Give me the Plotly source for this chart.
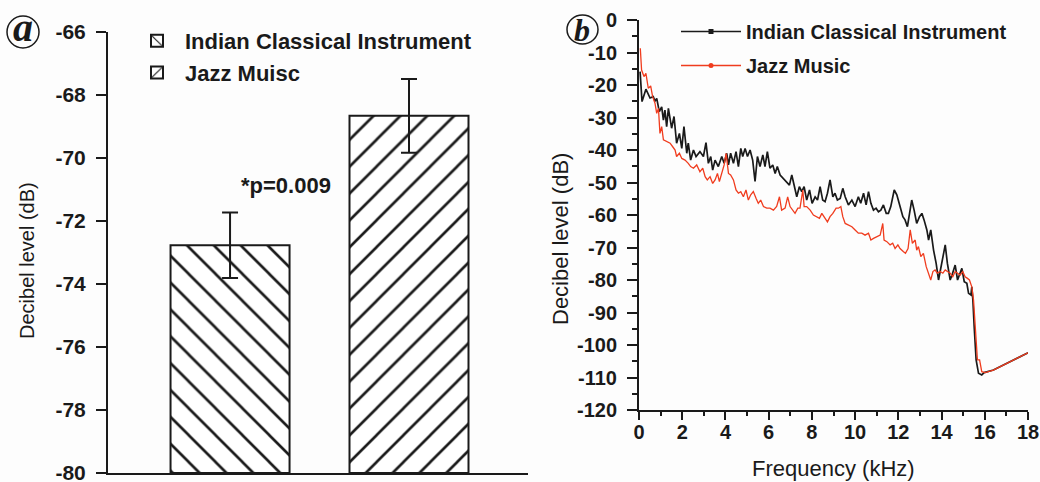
import plotly.graph_objects as go

W, H = 1040, 482

# ---------------- Panel a data ----------------
categories = ["Indian Classical Instrument", "Jazz Muisc"]
bar_values = [-72.77, -68.66]
bar_errors = [1.04, 1.17]
bar_patterns = ["\\", "/"]
ya_ticks = [-80, -78, -76, -74, -72, -70, -68, -66]
ya_labels = ["-80", "-78", "-76", "-74", "-72", "-70", "-68", "-66"]
axis_floor = -80

# ---------------- Panel b data ----------------
ici_freq = [0.05, 0.14, 0.32, 0.51, 0.66, 0.74, 0.82, 0.94, 1.05, 1.13, 1.20, 1.28, 1.36, 1.51,
            1.62, 1.74, 1.87, 1.98, 2.08, 2.21, 2.28, 2.39, 2.52, 2.64, 2.82, 2.98, 3.10, 3.21,
            3.32, 3.41, 3.52, 3.67, 3.83, 3.94, 4.06, 4.14, 4.24, 4.37, 4.49, 4.60, 4.71, 4.80,
            4.91, 5.02, 5.14, 5.26, 5.37, 5.48, 5.60, 5.73, 5.83, 5.94, 6.06, 6.19, 6.30, 6.40,
            6.53, 6.68, 6.84, 6.96, 7.07, 7.18, 7.30, 7.42, 7.53, 7.64, 7.76, 7.89, 8.01, 8.15,
            8.26, 8.38, 8.50, 8.61, 8.72, 8.84, 8.97, 9.07, 9.18, 9.31, 9.43, 9.54, 9.69, 9.85,
            10.00, 10.15, 10.26, 10.39, 10.51, 10.62, 10.73, 10.85, 10.97, 11.08, 11.19, 11.31,
            11.44, 11.54, 11.65, 11.81, 11.93, 12.08, 12.21, 12.31, 12.42, 12.52, 12.62, 12.73,
            12.85, 12.98, 13.09, 13.19, 13.32, 13.40, 13.50, 13.63, 13.75, 13.86, 13.97, 14.06,
            14.17, 14.27, 14.40, 14.51, 14.63, 14.74, 14.86, 14.94, 15.05, 15.17, 15.25, 15.36,
            15.40, 15.45, 15.51, 15.60, 15.71, 15.86, 15.97, 16.40, 18.00]
ici_db = [-15.9, -25.1, -21.3, -24.0, -23.6, -25.0, -24.1, -28.2, -26.7, -30.8, -27.7, -32.8,
          -27.2, -33.3, -29.7, -37.9, -34.9, -39.5, -32.8, -41.0, -37.9, -43.1, -40.0, -42.0,
          -40.5, -42.0, -37.7, -44.1, -42.0, -46.2, -43.1, -45.1, -42.0, -44.1, -41.0, -44.6,
          -41.0, -44.1, -40.5, -45.1, -39.5, -42.0, -39.5, -42.0, -40.0, -43.1, -49.7, -42.0,
          -45.1, -41.5, -45.1, -40.5, -45.6, -44.6, -47.2, -45.1, -47.7, -48.7, -49.7, -50.8,
          -47.7, -50.8, -54.4, -51.3, -52.8, -51.3, -55.4, -52.3, -56.4, -54.4, -55.4, -51.3,
          -55.4, -55.9, -53.3, -49.2, -54.4, -53.3, -55.4, -54.9, -51.8, -54.4, -56.9, -55.4,
          -57.4, -54.4, -56.4, -53.3, -56.9, -52.8, -56.4, -58.5, -57.9, -59.0, -58.5, -56.9,
          -59.5, -59.5, -57.4, -52.3, -53.8, -57.4, -60.5, -61.5, -63.6, -59.5, -55.4, -58.5,
          -62.6, -60.5, -59.5, -61.5, -64.6, -67.7, -64.6, -70.8, -74.9, -80.0, -75.9, -72.8,
          -69.2, -74.9, -80.0, -77.9, -75.4, -80.0, -77.4, -76.4, -80.5, -81.0, -84.1, -84.6,
          -82.1, -86.2, -94.4, -104.6, -108.7, -109.2, -108.5, -107.7, -102.4]

jazz_freq = [0.06, 0.12, 0.23, 0.32, 0.43, 0.54, 0.63, 0.74, 0.82, 0.90, 0.97, 1.05, 1.13, 1.28,
             1.44, 1.56, 1.67, 1.74, 1.87, 1.98, 2.13, 2.28, 2.39, 2.52, 2.67, 2.82, 2.95, 3.06,
             3.16, 3.29, 3.41, 3.52, 3.63, 3.72, 3.83, 3.94, 4.03, 4.14, 4.24, 4.37, 4.49, 4.60,
             4.71, 4.83, 4.95, 5.06, 5.17, 5.29, 5.42, 5.52, 5.63, 5.76, 5.91, 6.06, 6.22, 6.37,
             6.50, 6.60, 6.76, 6.88, 6.99, 7.11, 7.22, 7.35, 7.45, 7.58, 7.64, 7.76, 7.92, 8.07,
             8.23, 8.35, 8.46, 8.61, 8.72, 8.84, 8.97, 9.12, 9.23, 9.34, 9.43, 9.54, 9.69, 9.85,
             10.00, 10.15, 10.31, 10.46, 10.62, 10.73, 10.85, 11.00, 11.16, 11.28, 11.34, 11.47,
             11.62, 11.74, 11.85, 11.98, 12.08, 12.24, 12.33, 12.45, 12.55, 12.65, 12.78, 12.85,
             12.93, 13.04, 13.16, 13.29, 13.40, 13.50, 13.60, 13.70, 13.80, 13.94, 14.06, 14.17,
             14.27, 14.40, 14.52, 14.63, 14.74, 14.86, 14.98, 15.09, 15.20, 15.29, 15.40, 15.48,
             15.56, 15.66, 15.76, 15.86, 16.02, 16.40, 18.00]
jazz_db = [-8.7, -15.4, -17.4, -16.4, -21.0, -20.3, -23.6, -25.6, -28.7, -27.2, -34.9, -32.8,
           -36.9, -37.4, -37.9, -39.0, -40.0, -42.0, -41.0, -42.6, -43.1, -44.1, -45.1, -45.6,
           -44.6, -46.7, -45.6, -48.2, -49.2, -48.2, -50.3, -49.2, -47.2, -49.7, -47.2, -44.6,
           -41.0, -47.2, -47.7, -49.2, -52.3, -53.3, -52.8, -54.4, -52.3, -55.4, -53.8, -52.8,
           -54.9, -56.4, -55.4, -57.4, -57.9, -57.9, -58.5, -57.4, -54.4, -58.5, -57.9, -54.4,
           -57.4, -58.5, -59.5, -57.9, -57.9, -52.3, -57.4, -57.4, -58.5, -60.0, -60.5, -61.0,
           -59.5, -61.0, -62.1, -60.5, -59.5, -57.9, -57.9, -57.4, -60.5, -62.6, -63.1, -63.6,
           -64.6, -65.6, -65.6, -66.2, -65.6, -67.7, -67.2, -66.7, -66.2, -62.6, -67.7, -68.2,
           -69.2, -68.7, -70.3, -69.2, -70.3, -71.3, -71.8, -70.3, -64.6, -68.7, -67.7, -70.8,
           -69.7, -72.8, -71.8, -75.9, -77.9, -80.0, -77.4, -76.9, -77.9, -77.4, -77.9, -76.9,
           -77.4, -77.9, -79.0, -77.4, -77.9, -78.5, -77.4, -79.0, -79.5, -80.0, -82.1, -86.2,
           -94.4, -104.6, -104.6, -108.2, -108.5, -107.7, -102.4]

yb_ticks = [0, -10, -20, -30, -40, -50, -60, -70, -80, -90, -100, -110, -120]
yb_labels = ["0", "-10", "-20", "-30", "-40", "-50", "-60", "-70", "-80", "-90", "-100", "-110", "-120"]
xb_ticks = [0, 2, 4, 6, 8, 10, 12, 14, 16, 18]
xb_labels = ["0", "2", "4", "6", "8", "10", "12", "14", "16", "18"]

BLACK = "#1a1a1a"
RED = "#f03c1e"
FONT = "Liberation Sans"


def px(x):
    return x / W


def py(y):
    return 1 - y / H


fig = go.Figure()

# ---- panel a bars ----
for cat, val, err, pat in zip(categories, bar_values, bar_errors, bar_patterns):
    fig.add_trace(go.Bar(
        x=[cat], y=[val - axis_floor], base=[axis_floor], name=cat,
        width=0.665, xaxis="x", yaxis="y", legend="legend",
        marker=dict(color="white", line=dict(color=BLACK, width=2),
                    pattern=dict(shape=pat, fgcolor=BLACK, bgcolor="white",
                                 size=19, solidity=0.14)),
        error_y=dict(type="data", array=[err], color=BLACK, thickness=2, width=8),
    ))

# ---- panel b lines ----
fig.add_trace(go.Scatter(x=ici_freq, y=ici_db, mode="lines", showlegend=False,
                         line=dict(color=BLACK, width=1.7), xaxis="x2", yaxis="y2"))
fig.add_trace(go.Scatter(x=jazz_freq, y=jazz_db, mode="lines", showlegend=False,
                         line=dict(color=RED, width=1.3), xaxis="x2", yaxis="y2"))
# legend entries for panel b
fig.add_trace(go.Scatter(x=[None], y=[None], mode="lines+markers", name="Indian Classical Instrument",
                         line=dict(color=BLACK, width=1.6), marker=dict(symbol="square", size=5, color=BLACK),
                         xaxis="x2", yaxis="y2", legend="legend2", legendgroup="g1"))
fig.add_trace(go.Scatter(x=[None], y=[None], mode="lines+markers", name="Jazz Music",
                         line=dict(color=RED, width=1.3), marker=dict(symbol="circle", size=5, color=RED),
                         xaxis="x2", yaxis="y2", legend="legend2", legendgroup="g2"))

tickfont = dict(family=FONT, size=20, color=BLACK, weight="bold")

fig.update_layout(
    template="none",
    width=W, height=H,
    margin=dict(l=0, r=0, t=0, b=0, autoexpand=False),
    paper_bgcolor="#fdfdfd", plot_bgcolor="rgba(0,0,0,0)",
    barmode="overlay",
    font=dict(family=FONT, color=BLACK),
    xaxis=dict(domain=[px(108), px(528)], type="category", categoryarray=categories,
               range=[-0.682, 1.665], showline=True, linecolor=BLACK, linewidth=2,
               showticklabels=False, ticks="", showgrid=False, zeroline=False, automargin=False),
    yaxis=dict(domain=[py(473), py(32)], range=[-80, -66], tickvals=ya_ticks, ticktext=ya_labels,
               showline=True, linecolor=BLACK, linewidth=2, ticks="outside", ticklen=10,
               tickwidth=2, tickcolor=BLACK, tickfont=dict(family=FONT, size=21, color=BLACK, weight="bold"),
               ticklabelstandoff=6, ticklabeloverflow="allow", showgrid=False, zeroline=False,
               automargin=False),
    xaxis2=dict(domain=[px(639), px(1028)], range=[0, 18], tickvals=xb_ticks, ticktext=xb_labels,
                showline=True, linecolor=BLACK, linewidth=2, ticks="outside", ticklen=8, tickwidth=2,
                tickcolor=BLACK, tickfont=tickfont, showgrid=False, zeroline=False,
                minor=dict(dtick=1, ticks="outside", ticklen=4, tickwidth=2, tickcolor=BLACK),
                ticklabelstandoff=-5, ticklabeloverflow="allow", anchor="y2", automargin=False),
    yaxis2=dict(domain=[py(410), py(20)], range=[-120, 0], tickvals=yb_ticks, ticktext=yb_labels,
                showline=True, linecolor=BLACK, linewidth=2, ticks="outside", ticklen=10, tickwidth=2,
                tickcolor=BLACK, tickfont=tickfont, showgrid=False, zeroline=False,
                minor=dict(dtick=5, ticks="outside", ticklen=5, tickwidth=2, tickcolor=BLACK),
                ticklabelstandoff=6, ticklabeloverflow="allow", anchor="x2", automargin=False),
    legend=dict(x=px(129), y=py(20), xanchor="left", yanchor="top", bgcolor="rgba(0,0,0,0)",
                font=dict(family=FONT, size=22, color=BLACK, weight="bold"), itemwidth=46,
                tracegroupgap=0),
    legend2=dict(x=px(676), y=py(12), xanchor="left", yanchor="top", bgcolor="rgba(0,0,0,0)",
                 font=dict(family=FONT, size=20, color=BLACK, weight="bold"), itemwidth=60,
                 tracegroupgap=5),
    showlegend=True,
)

annotations = [
    dict(text="*p=0.009", x=0.31, y=-70.86, xref="x", yref="y", showarrow=False,
         xanchor="center", yanchor="middle",
         font=dict(family=FONT, size=22, color=BLACK, weight="bold")),
    dict(text="Decibel level (dB)", x=px(27), y=py(261), xref="paper", yref="paper", showarrow=False,
         xanchor="center", yanchor="middle", textangle=-90, font=dict(family=FONT, size=20, color=BLACK)),
    dict(text="Decibel level (dB)", x=px(560), y=py(239), xref="paper", yref="paper", showarrow=False,
         xanchor="center", yanchor="middle", textangle=-90, font=dict(family=FONT, size=22, color=BLACK)),
    dict(text="Frequency (kHz)", x=px(833), y=py(468), xref="paper", yref="paper", showarrow=False,
         xanchor="center", yanchor="middle", font=dict(family=FONT, size=22, color=BLACK)),
    dict(text="<b><i>a</i></b>", x=px(23), y=py(27), xref="paper", yref="paper", showarrow=False,
         xanchor="center", yanchor="middle", font=dict(family="Liberation Serif", size=40, color=BLACK)),
    dict(text="<b><i>b</i></b>", x=px(582), y=py(30), xref="paper", yref="paper", showarrow=False,
         xanchor="center", yanchor="middle", font=dict(family="Liberation Serif", size=32, color=BLACK)),
]
fig.update_layout(annotations=annotations)

fig.update_layout(shapes=[
    dict(type="circle", xref="paper", yref="paper", x0=px(7), x1=px(39), y0=py(48), y1=py(16),
         line=dict(color=BLACK, width=1.5)),
    dict(type="circle", xref="paper", yref="paper", x0=px(567), x1=px(598), y0=py(44), y1=py(15),
         line=dict(color=BLACK, width=1.5)),
])

fig.write_html("out.html", config={"displayModeBar": False},
               post_script="document.body.style.margin='0px';document.body.style.overflow='hidden';")
